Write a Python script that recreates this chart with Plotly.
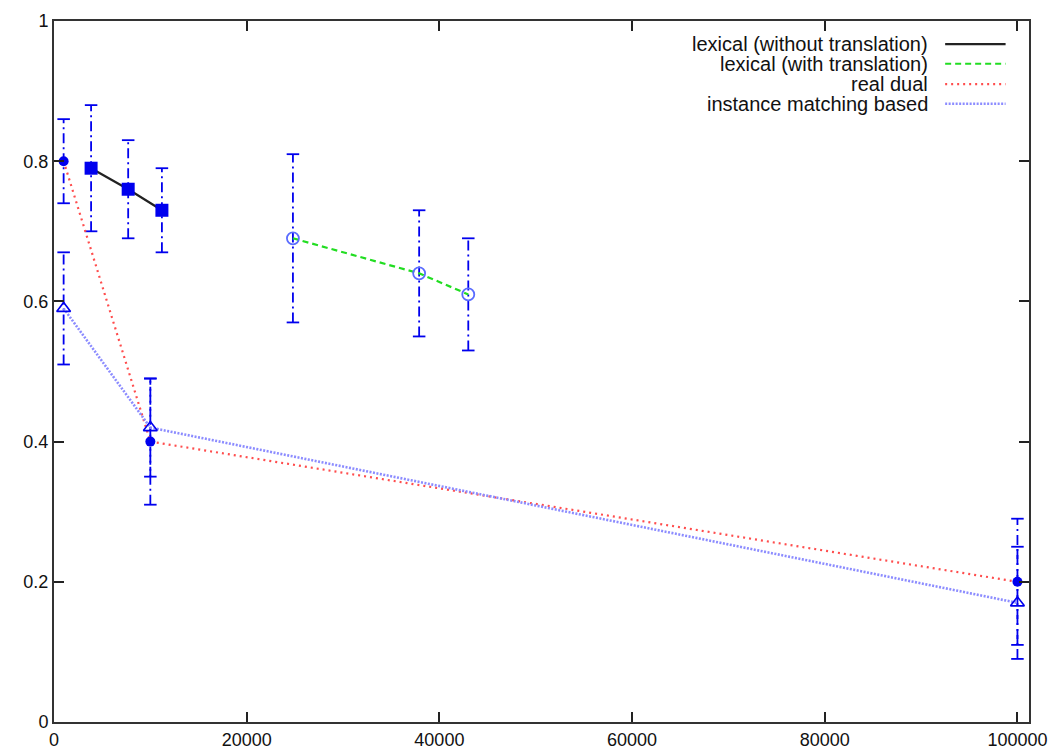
import plotly.graph_objects as go

# ---- data ----
lex_x = [3850, 7700, 11200]
lex_y = [0.79, 0.76, 0.73]
lex_e = [0.09, 0.07, 0.06]

lextr_x = [24800, 37900, 43000]
lextr_y = [0.69, 0.64, 0.61]
lextr_e = [0.12, 0.09, 0.08]

dual_x = [1000, 10000, 100000]
dual_y = [0.80, 0.40, 0.20]
dual_e = [0.06, 0.09, 0.09]

inst_x = [1000, 10000, 100000]
inst_y = [0.59, 0.42, 0.17]
inst_e = [0.08, 0.07, 0.08]

legend_names = ["lexical (without translation)", "lexical (with translation)",
                "real dual", "instance matching based"]

EB_COLOR = "#0000ee"
CAP = 650  # half cap width in data units

fig = go.Figure()


def add_errorbars(xs, ys, es):
    vx, vy, cx, cy = [], [], [], []
    for x, y, e in zip(xs, ys, es):
        vx += [x, x, None]
        vy += [y - e, y + e, None]
        for yy in (y - e, y + e):
            cx += [x - CAP, x + CAP, None]
            cy += [yy, yy, None]
    fig.add_trace(go.Scatter(x=vx, y=vy, mode="lines", showlegend=False, hoverinfo="skip",
                             line=dict(color=EB_COLOR, width=1.8, dash="10px,4px,2px,4px")))
    fig.add_trace(go.Scatter(x=cx, y=cy, mode="lines", showlegend=False, hoverinfo="skip",
                             line=dict(color=EB_COLOR, width=1.8)))


for xs, ys, es in [(lex_x, lex_y, lex_e), (lextr_x, lextr_y, lextr_e),
                   (dual_x, dual_y, dual_e), (inst_x, inst_y, inst_e)]:
    add_errorbars(xs, ys, es)

line_styles = [
    dict(color="#222222", width=2.2, dash="solid"),
    dict(color="#22dd22", width=2.2, dash="6px,4px"),
    dict(color="#ff4d4d", width=2.2, dash="2px,4px"),
    dict(color="#8c8cff", width=2.6, dash="2px,1.5px"),
]
series = [(lex_x, lex_y), (lextr_x, lextr_y), (dual_x, dual_y), (inst_x, inst_y)]
for (xs, ys), ls, nm in zip(series, line_styles, legend_names):
    fig.add_trace(go.Scatter(x=xs, y=ys, mode="lines", name=nm, showlegend=False, line=ls))

markers = [
    dict(symbol="square", size=13, color=EB_COLOR),
    dict(symbol="circle-open", size=12, color="#5a6cff", line=dict(width=1.8, color="#5a6cff")),
    dict(symbol="circle", size=10, color=EB_COLOR),
    dict(symbol="triangle-up-open", size=12, color=EB_COLOR, line=dict(width=1.6, color=EB_COLOR)),
]
for (xs, ys), mk in zip(series, markers):
    fig.add_trace(go.Scatter(x=xs, y=ys, mode="markers", showlegend=False, marker=mk))

# ---- custom legend (text right-aligned, sample to the right) ----
leg_y = [0.967, 0.939, 0.910, 0.882]
for nm, ly, ls in zip(legend_names, leg_y, line_styles):
    fig.add_annotation(x=0.898, y=ly, xref="paper", yref="paper", text=nm, showarrow=False,
                       xanchor="right", yanchor="middle",
                       font=dict(family="Liberation Sans, Arial", size=20, color="#111111"))
    fig.add_shape(type="line", xref="paper", yref="paper", x0=0.914, x1=0.976, y0=ly, y1=ly,
                  line=dict(color=ls["color"], width=ls["width"], dash=ls["dash"]))

axis_common = dict(showgrid=False, zeroline=False, showline=True, linecolor="#333333", linewidth=2,
                   mirror="allticks", ticks="inside", ticklen=10, tickwidth=1.5, tickcolor="#222222",
                   automargin=False,
                   tickfont=dict(family="Liberation Sans, Arial", size=18, color="#111111"))

fig.update_xaxes(range=[0, 101200], tickvals=[0, 20000, 40000, 60000, 80000, 100000],
                 ticktext=["0", "20000", "40000", "60000", "80000", "100000"], **axis_common)
fig.update_yaxes(range=[0, 1], tickvals=[0, 0.2, 0.4, 0.6, 0.8, 1],
                 ticktext=["0", "0.2", "0.4", "0.6", "0.8", "1"], **axis_common)

fig.update_layout(width=1058, height=755, margin=dict(l=54, r=29, t=21, b=33),
                  plot_bgcolor="white", paper_bgcolor="white", showlegend=False)

fig.write_html("out.html", config={"displayModeBar": False},
               post_script="document.body.style.margin='0';document.body.style.overflow='hidden';")
